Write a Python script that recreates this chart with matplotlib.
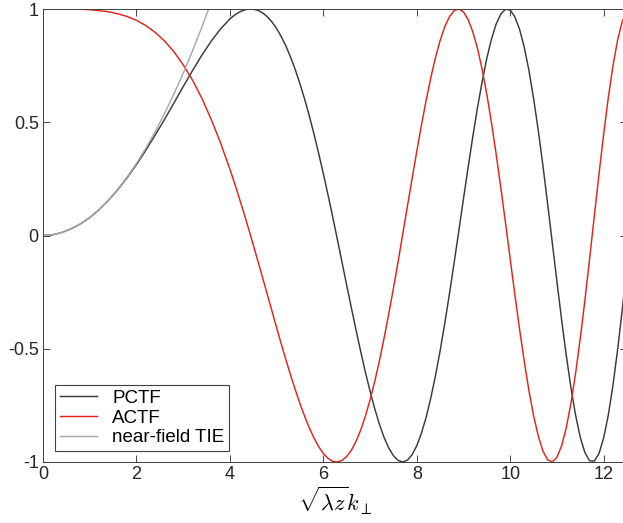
import matplotlib
matplotlib.use("Agg")
import matplotlib.pyplot as plt

plt.rcParams['font.family'] = ['Liberation Sans', 'DejaVu Sans']
plt.rcParams['mathtext.fontset'] = 'cm'

# x positions (sqrt(lambda z) k_perp)
x_vals = [0.0, 0.2, 0.4, 0.6, 0.8, 1.0, 1.2, 1.4, 1.6, 1.8, 2.0, 2.2, 2.4, 2.6, 2.8,
          3.0, 3.2, 3.4, 3.6, 3.8, 4.0,
          4.1, 4.2, 4.3, 4.4, 4.5, 4.6, 4.7, 4.8, 4.9, 5.0,
          5.1, 5.2, 5.3, 5.4, 5.5, 5.6, 5.7, 5.8, 5.9, 6.0,
          6.1, 6.2, 6.3, 6.4, 6.5, 6.6, 6.7, 6.8, 6.9, 7.0,
          7.1, 7.2, 7.3, 7.4, 7.5, 7.6, 7.7, 7.8, 7.9, 8.0,
          8.1, 8.2, 8.3, 8.4, 8.5, 8.6, 8.7, 8.8, 8.9, 9.0,
          9.1, 9.2, 9.3, 9.4, 9.5, 9.6, 9.7, 9.8, 9.9, 10.0,
          10.1, 10.2, 10.3, 10.4, 10.5, 10.6, 10.7, 10.8, 10.9, 11.0,
          11.1, 11.2, 11.3, 11.4, 11.5, 11.6, 11.7, 11.8, 11.9, 12.0,
          12.1, 12.2, 12.3, 12.4, 12.5]

pctf = [0.000, 0.003, 0.013, 0.029, 0.051, 0.079, 0.114, 0.155, 0.202, 0.255, 0.313,
        0.376, 0.443, 0.512, 0.584, 0.657, 0.728, 0.796, 0.858, 0.912, 0.956,
        0.973, 0.986, 0.995, 1.000, 0.999, 0.994, 0.983, 0.966, 0.943, 0.914,
        0.878, 0.836, 0.787, 0.732, 0.670, 0.602, 0.528, 0.448, 0.363, 0.273,
        0.180, 0.083, -0.017, -0.118, -0.219, -0.319, -0.417, -0.512, -0.603, -0.687,
        -0.764, -0.833, -0.891, -0.938, -0.972, -0.993, -1.000, -0.992, -0.968, -0.928,
        -0.873, -0.803, -0.718, -0.620, -0.509, -0.387, -0.257, -0.120, 0.020, 0.162,
        0.302, 0.437, 0.564, 0.680, 0.783, 0.868, 0.934, 0.978, 0.999, 0.995,
        0.965, 0.911, 0.832, 0.730, 0.606, 0.465, 0.309, 0.142, -0.030, -0.203,
        -0.371, -0.529, -0.672, -0.794, -0.891, -0.959, -0.995, -0.996, -0.963, -0.894,
        -0.793, -0.661, -0.503, -0.325, -0.132]

actf = [1.000, 1.000, 1.000, 1.000, 0.999, 0.997, 0.993, 0.988, 0.979, 0.967, 0.950,
        0.927, 0.897, 0.859, 0.812, 0.754, 0.686, 0.606, 0.513, 0.409, 0.293,
        0.231, 0.166, 0.099, 0.030, -0.041, -0.113, -0.186, -0.260, -0.333, -0.407,
        -0.479, -0.549, -0.617, -0.681, -0.742, -0.798, -0.849, -0.894, -0.932, -0.962,
        -0.984, -0.997, -1.000, -0.993, -0.976, -0.948, -0.909, -0.859, -0.798, -0.726,
        -0.645, -0.554, -0.454, -0.347, -0.234, -0.116, 0.006, 0.129, 0.251, 0.371,
        0.487, 0.596, 0.696, 0.785, 0.861, 0.922, 0.966, 0.993, 1.000, 0.987,
        0.953, 0.899, 0.826, 0.733, 0.623, 0.497, 0.358, 0.210, 0.055, -0.104,
        -0.261, -0.413, -0.555, -0.684, -0.795, -0.885, -0.951, -0.990, -1.000, -0.979,
        -0.929, -0.849, -0.741, -0.608, -0.454, -0.284, -0.102, 0.085, 0.270, 0.447,
        0.609, 0.750, 0.864, 0.946, 0.991]

# near-field TIE (quadratic approximation), read up to where it leaves the top
tie_x = [0.0, 0.2, 0.4, 0.6, 0.8, 1.0, 1.2, 1.4, 1.6, 1.8, 2.0, 2.2, 2.4, 2.6, 2.8,
         3.0, 3.2, 3.4, 3.545, 3.6]
tie_y = [0.000, 0.003, 0.013, 0.029, 0.051, 0.080, 0.115, 0.156, 0.204, 0.258, 0.318,
         0.385, 0.458, 0.538, 0.624, 0.716, 0.815, 0.920, 1.000, 1.031]

labels = ['PCTF', 'ACTF', 'near-field TIE']
colors = ['#3a3a3a', '#e2231a', '#a9a9a9']

x_ticks = [0, 2, 4, 6, 8, 10, 12]
x_tick_labels = ['0', '2', '4', '6', '8', '10', '12']
y_ticks = [-1, -0.5, 0, 0.5, 1]
y_tick_labels = ['-1', '-0.5', '0', '0.5', '1']

fig = plt.figure(figsize=(6.23, 5.23), dpi=100)
ax = fig.add_axes([43 / 623, 1 - 462 / 523, (627 - 43) / 623, (462 - 9) / 523])

ax.plot(x_vals, pctf, color=colors[0], lw=1.05, label=labels[0])
ax.plot(x_vals, actf, color=colors[1], lw=1.05, label=labels[1])
ax.plot(tie_x, tie_y, color=colors[2], lw=1.05, label=labels[2])

ax.set_xlim(0, 12.5)
ax.set_ylim(-1, 1)
ax.set_xticks(x_ticks)
ax.set_xticklabels(x_tick_labels)
ax.set_yticks(y_ticks)
ax.set_yticklabels(y_tick_labels)
ax.tick_params(direction='in', length=5, width=0.6, colors='#262626',
               labelsize=13, top=True, right=True, pad=3)
for s in ax.spines.values():
    s.set_color('#404040')
    s.set_linewidth(0.7)

ax.set_xlabel(r'$\sqrt{\lambda z}k_\perp$', fontsize=16, labelpad=1)

leg = ax.legend(loc='lower left', bbox_to_anchor=(12 / 584, 11 / 453),
                borderaxespad=0, fontsize=13.5, handlelength=2.0,
                handletextpad=0.8, labelspacing=0.14, borderpad=0.25,
                fancybox=False, framealpha=1, edgecolor='#404040')
leg.get_frame().set_linewidth(0.8)

fig.savefig('out.png', dpi=100)
